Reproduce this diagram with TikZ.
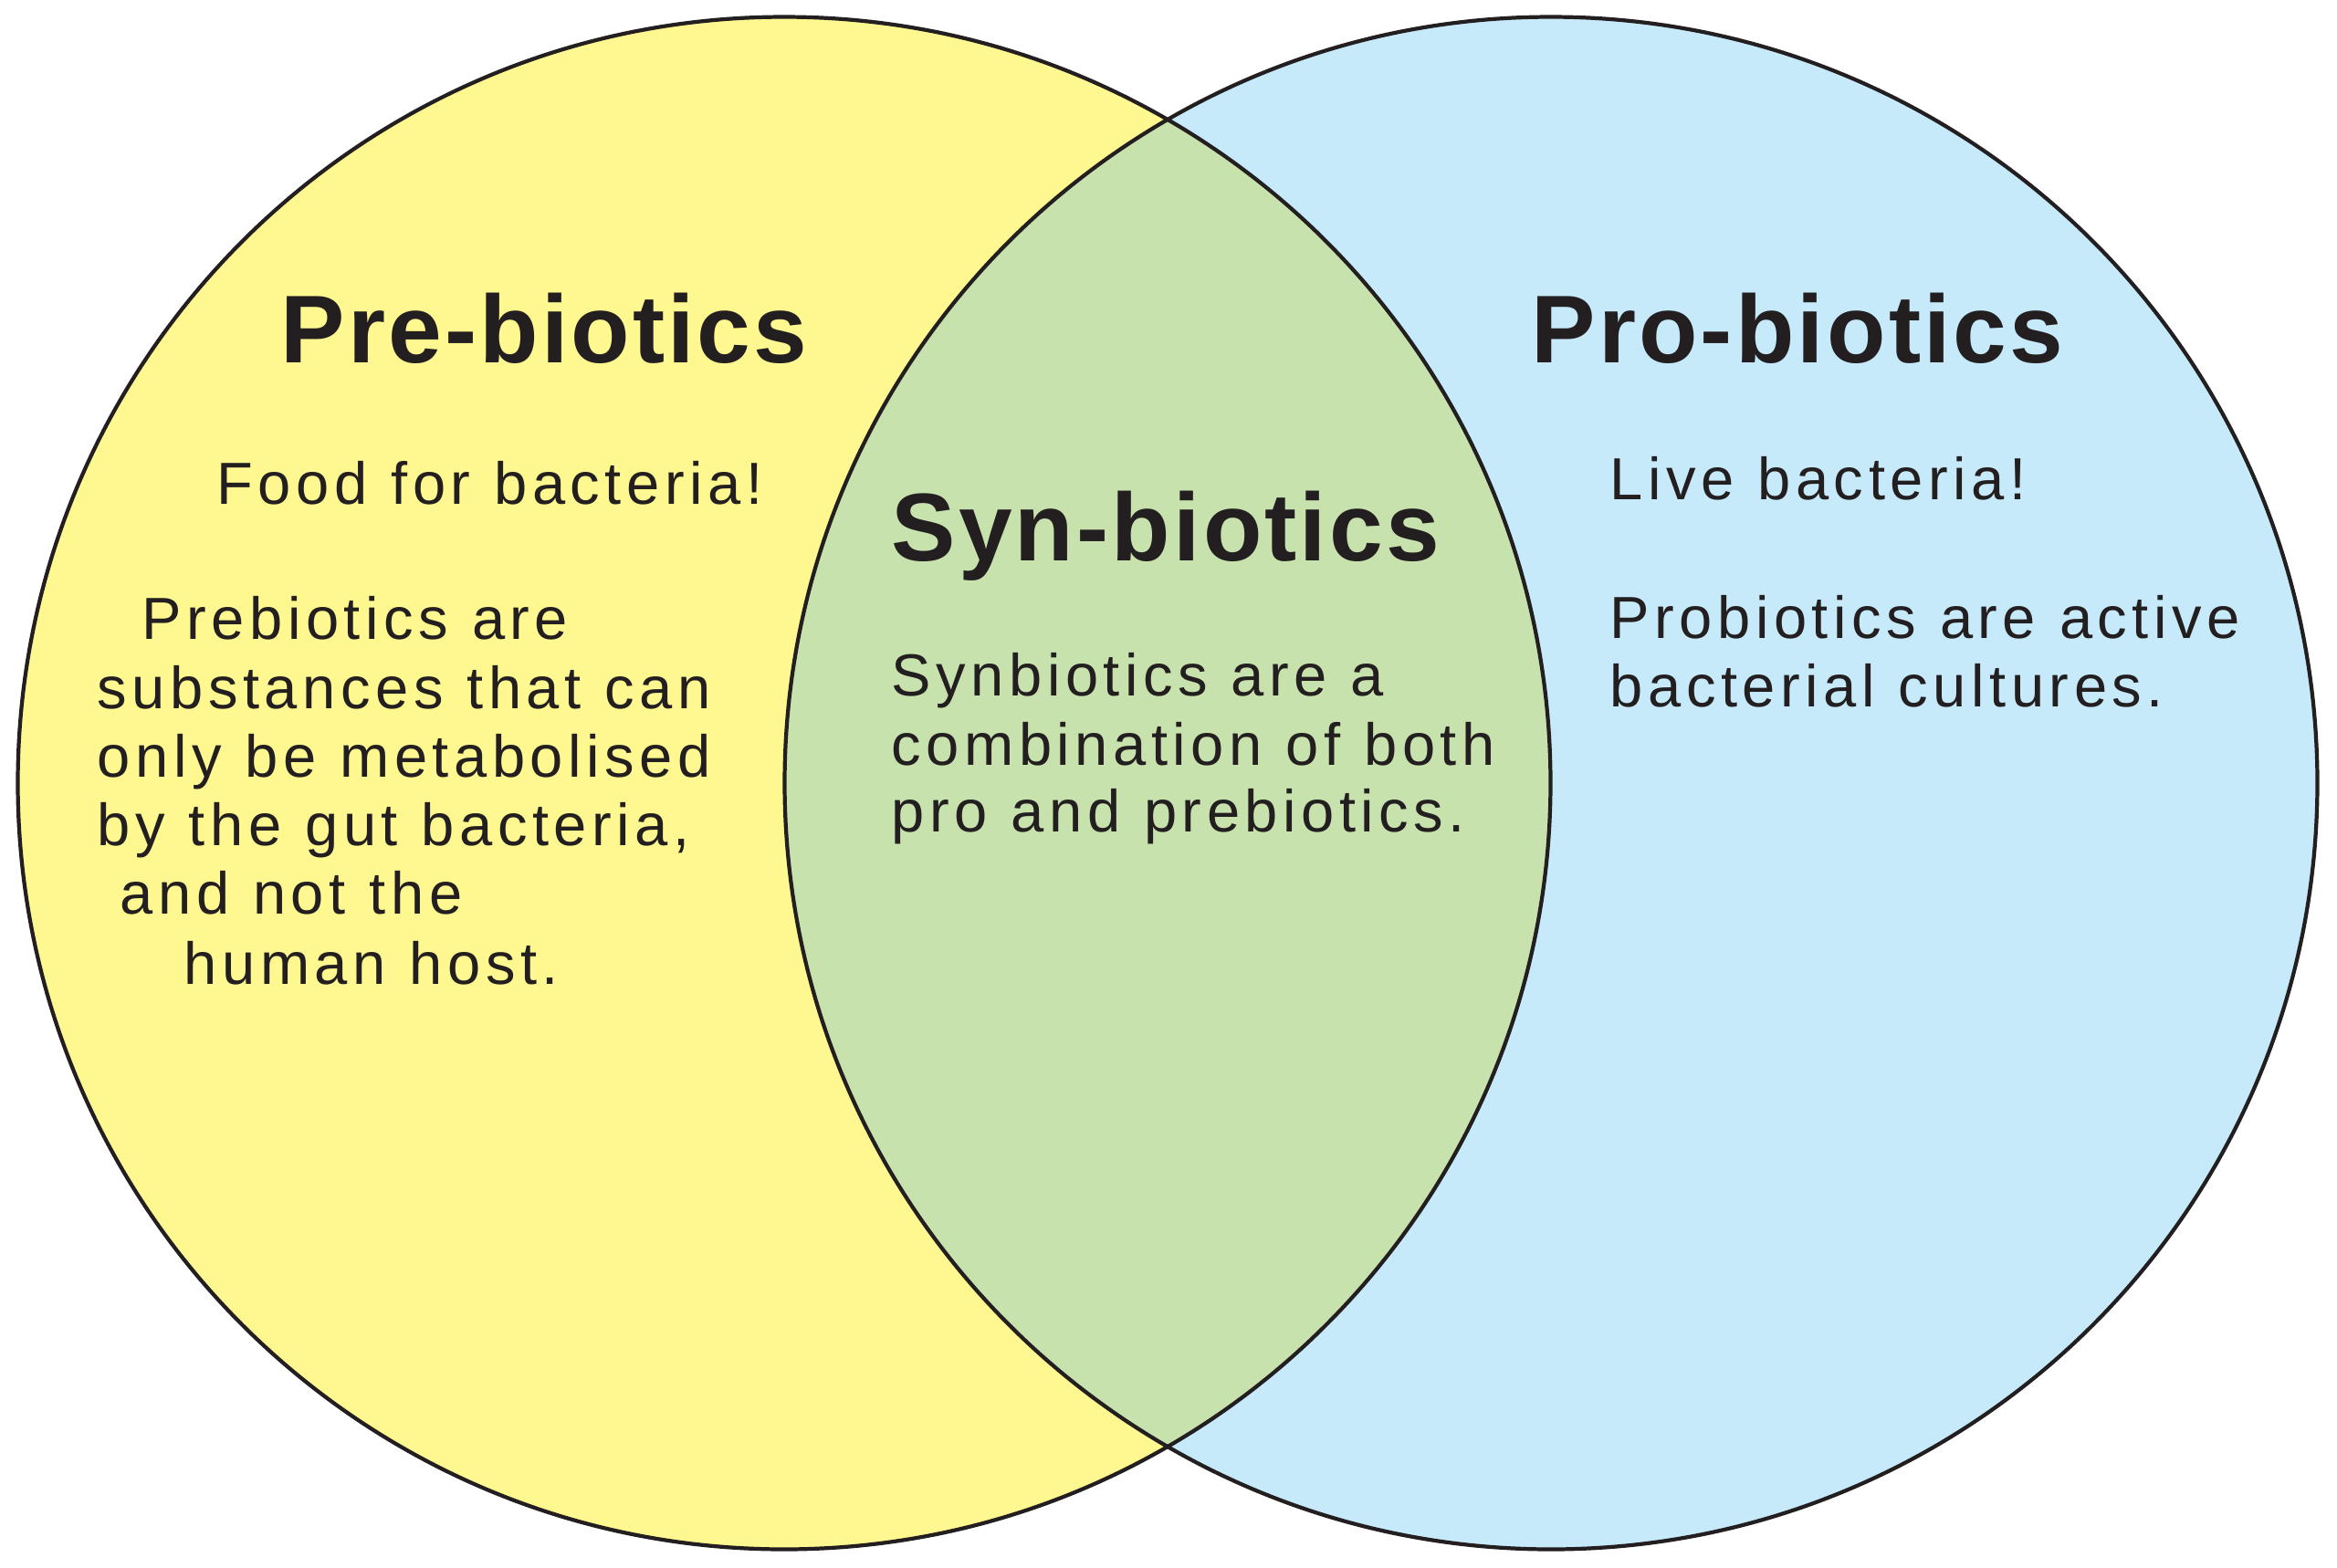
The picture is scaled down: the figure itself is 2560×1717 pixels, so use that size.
\documentclass[tikz,border=0pt]{standalone}
\usepackage{fontspec}
\newfontfamily\bodyfont{Liberation Sans}[LetterSpace=8.5,WordSpace=1.1]
\newfontfamily\headfont{Liberation Sans Bold}[LetterSpace=3]
\definecolor{preY}{HTML}{FFF78F}
\definecolor{proB}{HTML}{C6EAFA}
\definecolor{synG}{HTML}{C8E2AE}
\definecolor{ink}{HTML}{231F20}
\tikzset{
  ttl/.style={anchor=base west, inner sep=0pt, text=ink, font=\headfont\fontsize{30}{36}\selectfont},
  txt/.style={anchor=base west, inner sep=0pt, text=ink, font=\bodyfont\fontsize{18.5}{22}\selectfont},
  ring/.style={draw=ink, line width=1.2pt}
}
\begin{document}
\begin{tikzpicture}[x=0.01cm, y=-0.01cm]
\useasboundingbox (0,0) rectangle (2560,1717);
\coordinate (cl) at (859,858);
\coordinate (cr) at (1699,858);
\fill[preY] (cl) circle[radius=8.39cm];
\fill[proB] (cr) circle[radius=8.39cm];
\begin{scope}
  \clip (cl) circle[radius=8.39cm];
  \fill[synG] (cr) circle[radius=8.39cm];
\end{scope}
\draw[ring] (cl) circle[radius=8.39cm];
\draw[ring] (cr) circle[radius=8.39cm];

\node[ttl] (tpre) at (307,397) {Pre-biotics};
\node[ttl] (tsyn) at (976,614) {Syn-biotics};
\node[ttl] (tpro) at (1677,397) {Pro-biotics};

\node[txt] (l0) at (237,552) {Food for bacteria!};
\node[txt] (l1) at (155,700) {Prebiotics are};
\node[txt] (l2) at (106,776) {substances that can};
\node[txt] (l3) at (106,851) {only be metabolised};
\node[txt] (l4) at (106,926) {by the gut bacteria,};
\node[txt] (l5) at (131,1001) {and not the};
\node[txt] (l6) at (201,1078) {human host.};

\node[txt] (m1) at (976,762) {Synbiotics are a};
\node[txt] (m2) at (976,838) {combination of both};
\node[txt] (m3) at (976,911) {pro and prebiotics.};

\node[txt] (r0) at (1763,547) {Live bacteria!};
\node[txt] (r1) at (1763,699) {Probiotics are active};
\node[txt] (r2) at (1763,774) {bacterial cultures.};
\end{tikzpicture}
\end{document}
